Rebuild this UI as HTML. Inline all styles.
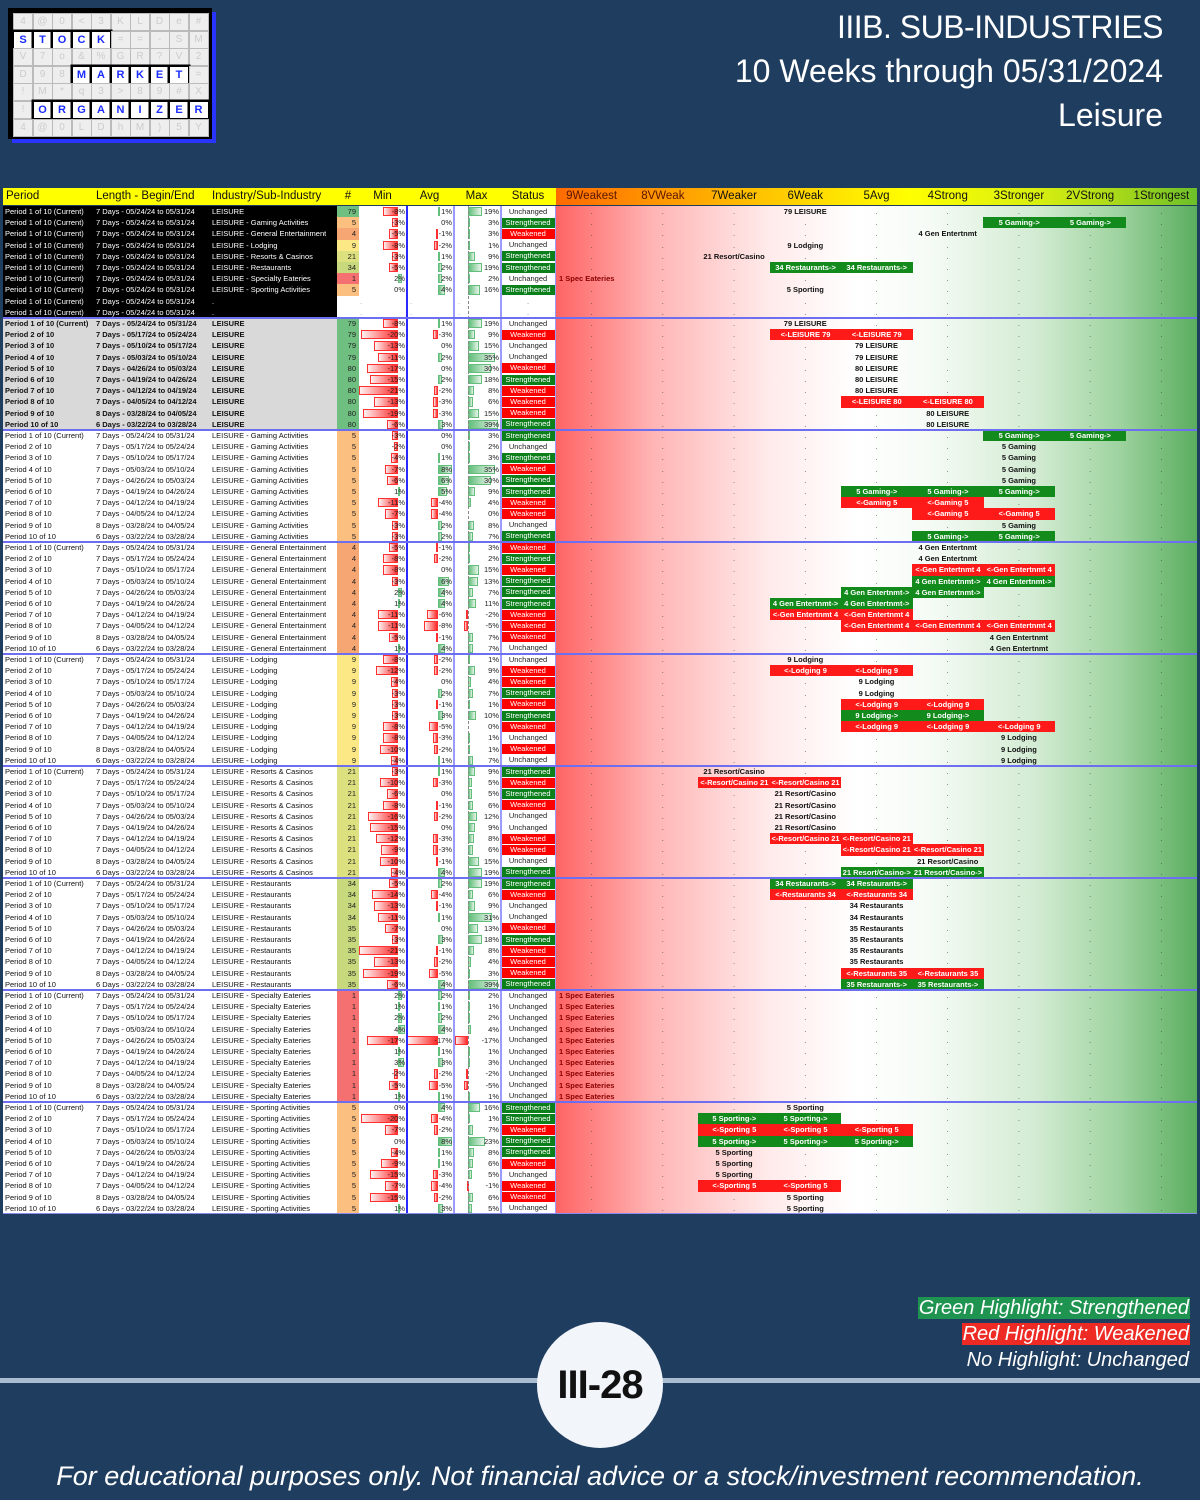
<!DOCTYPE html>
<html><head><meta charset="utf-8">
<style>
html,body{margin:0;padding:0;}
body{width:1200px;height:1500px;background:#1f3d5f;position:relative;overflow:hidden;font-family:"Liberation Sans",sans-serif;}
.a{position:absolute;}
.c{position:absolute;height:11.2px;line-height:11.2px;font-size:7.5px;white-space:nowrap;overflow:hidden;}
.title{position:absolute;right:37px;color:#fff;font-size:32px;line-height:44px;text-align:right;white-space:nowrap;}
.hd{position:absolute;top:188px;height:17px;line-height:17px;font-size:11.5px;color:#111;white-space:nowrap;}
.lg{position:absolute;right:10px;color:#fff;font-style:italic;font-size:20px;line-height:22px;padding:0 1px;white-space:nowrap;}
</style></head>
<body>
<div id="logo" class="a" style="left:8px;top:8px;width:204px;height:131px;"></div>

<div class="title" style="top:5px;letter-spacing:-0.5px;">IIIB. SUB-INDUSTRIES</div>
<div class="title" style="top:49px;">10 Weeks through 05/31/2024</div>
<div class="title" style="top:93px;">Leisure</div>

<div id="tbl" class="a" style="left:0;top:0;width:1200px;height:1220px;"></div>

<div class="lg" style="top:1297px;background:#1f9451;">Green Highlight: Strengthened</div>
<div class="lg" style="top:1323px;background:#ee2a24;">Red Highlight: Weakened</div>
<div class="lg" style="top:1349px;">No Highlight: Unchanged</div>

<div class="a" style="left:0;top:1378px;width:1200px;height:5px;background:#aabdd0;"></div>
<div class="a" style="left:537px;top:1322px;width:126px;height:126px;border-radius:50%;background:#f2f5fa;text-align:center;line-height:126px;font-size:40px;font-weight:bold;color:#111;letter-spacing:-1px;">III-28</div>
<div class="a" style="left:0;top:1459px;width:1200px;text-align:center;color:#fff;font-style:italic;font-size:27px;line-height:34px;">For educational purposes only. Not financial advice or a stock/investment recommendation.</div>

<script>
const periodLabels = ["Period 1 of 10 (Current)","Period 2 of 10","Period 3 of 10","Period 4 of 10","Period 5 of 10","Period 6 of 10","Period 7 of 10","Period 8 of 10","Period 9 of 10","Period 10 of 10"];
const lengthLabels = ["7 Days - 05/24/24 to 05/31/24","7 Days - 05/17/24 to 05/24/24","7 Days - 05/10/24 to 05/17/24","7 Days - 05/03/24 to 05/10/24","7 Days - 04/26/24 to 05/03/24","7 Days - 04/19/24 to 04/26/24","7 Days - 04/12/24 to 04/19/24","7 Days - 04/05/24 to 04/12/24","8 Days - 03/28/24 to 04/05/24","6 Days - 03/22/24 to 03/28/24"];
const industryNames = ["LEISURE","LEISURE - Gaming Activities","LEISURE - General Entertainment","LEISURE - Lodging","LEISURE - Resorts & Casinos","LEISURE - Restaurants","LEISURE - Specialty Eateries","LEISURE - Sporting Activities"];
const shortNames = ["LEISURE","Gaming","Gen Entertnmt","Lodging","Resort/Casino","Restaurants","Spec Eateries","Sporting"];
const rankHeaders = ["9Weakest","8VWeak","7Weaker","6Weak","5Avg","4Strong","3Stronger","2VStrong","1Strongest"];

const currentCounts = [79,5,4,9,21,34,1,5];
const currentMin = [-8,-3,-5,-8,-3,-5,2,0];
const currentAvg = [1,0,-1,-2,1,2,2,4];
const currentMax = [19,3,3,1,9,19,2,16];
const currentStatus = ["U","S","W","U","S","S","U","S"];
const currentRank = [6,2,4,6,7,5,9,6];
const currentPrev = [6,3,4,6,7,6,9,6];

const groupCounts = [
 [79,79,79,79,80,80,80,80,80,80],[5,5,5,5,5,5,5,5,5,5],[4,4,4,4,4,4,4,4,4,4],[9,9,9,9,9,9,9,9,9,9],
 [21,21,21,21,21,21,21,21,21,21],[34,34,34,34,35,35,35,35,35,35],[1,1,1,1,1,1,1,1,1,1],[5,5,5,5,5,5,5,5,5,5]];
const groupMin = [
 [-8,-20,-13,-11,-17,-15,-21,-13,-19,-6],[-3,-2,-4,-7,-6,1,-11,-7,-3,-3],[-5,-8,-8,-3,2,1,-11,-11,-5,1],[-8,-12,-4,-3,-3,-3,-8,-8,-10,-4],
 [-3,-10,-6,-8,-16,-15,-12,-9,-10,-4],[-5,-14,-13,-11,-7,-3,-21,-13,-19,-6],[2,1,2,4,-17,1,3,-2,-5,1],[0,-20,-7,0,-4,-9,-15,-7,-15,1]];
const groupAvg = [
 [1,-3,0,2,0,2,-2,-3,-3,3],[0,0,1,8,6,5,-4,-4,2,2],[-1,-2,0,6,4,4,-6,-8,-1,4],[-2,-2,0,2,-1,3,-5,-3,-2,1],
 [1,-3,0,-1,-2,0,-3,-3,-1,4],[2,-4,-1,1,0,3,-1,-2,-5,4],[2,1,2,4,-17,1,3,-2,-5,1],[4,-4,-2,8,1,1,-3,-4,-2,3]];
const groupMax = [
 [19,9,15,35,30,18,8,6,15,39],[3,2,3,35,30,9,4,0,8,7],[3,2,15,13,7,11,-2,-5,7,7],[1,9,4,7,1,10,0,1,1,7],
 [9,5,5,6,12,9,8,6,15,19],[19,6,9,31,13,18,8,4,3,39],[2,1,2,4,-17,1,3,-2,-5,1],[16,1,7,23,8,6,5,-1,6,5]];
const groupStatus = [
 ["U","W","U","U","W","S","W","W","W","S"],["S","U","S","W","S","S","W","W","U","S"],["W","S","W","S","S","S","W","W","W","U"],["U","W","W","S","W","S","W","U","W","U"],
 ["S","W","S","W","U","U","W","W","U","S"],["S","W","U","U","W","S","W","W","W","S"],["U","U","U","U","U","U","U","U","U","U"],["S","S","W","S","S","W","U","W","W","U"]];
const groupRank = [
 [6,6,5,5,5,5,5,5,4,4],[2,3,3,3,3,3,5,4,3,3],[4,4,4,3,4,5,6,5,3,3],[6,6,5,5,5,4,5,3,3,3],
 [7,7,6,6,6,6,6,5,4,4],[5,6,5,5,5,5,5,5,5,4],[9,9,9,9,9,9,9,9,9,9],[6,6,7,5,7,7,7,7,6,6]];
const groupPrev = [
 [6,5,5,5,5,5,5,4,4,4],[3,3,3,3,3,5,4,3,3,4],[4,4,3,4,5,6,5,3,3,3],[6,5,5,5,4,5,3,3,3,3],
 [7,6,6,6,6,6,5,4,4,5],[6,5,5,5,5,5,5,5,4,5],[9,9,9,9,9,9,9,9,9,9],[6,7,5,7,7,7,7,6,6,6]];

const tbl = document.getElementById('tbl');
const ROWH = 11.2, TOP = 206, RX = 556, RW = 71.22;
const MIN_AXIS = 398, MIN_SCALE = 1.85, AVG_AXIS = 438, AVG_SCALE = 1.8, MAX_AXIS = 468, MAX_SCALE = 0.76;

function countColor(n){
  if(n>=79) return '#6fbf80';
  if(n>=34) return '#c6d97c';
  if(n>=21) return '#dde07f';
  if(n>=9) return '#fce986';
  if(n>=5) return '#fbbf80';
  if(n>=4) return '#f6a673';
  return '#f57070';
}
function div(cls, css, text){
  const d = document.createElement('div');
  d.className = cls;
  d.style.cssText = css;
  if(text!==undefined) d.textContent = text;
  tbl.appendChild(d);
  return d;
}
function colX(rank){ return RX + (9-rank)*RW; }

(function(){
  const logo = document.getElementById('logo');
  const chars = "4@0<3KLDe#STOCK==-SMV7o&%GR?V2D98MARKET=!M*q3>89#X!ORGANIZER4@0LDhM)5Y";
  let h = '<div style="position:absolute;left:4px;top:4px;width:204px;height:131px;background:#2a34ff"></div><div style="position:absolute;left:0;top:0;width:204px;height:131px;background:#000"></div>';
  const words = {1:[0,"STOCK"],3:[3,"MARKET"],5:[1,"ORGANIZER"]};
  for(let r=0;r<7;r++){
    for(let c=0;c<10;c++){
      const x=5+c*19.5, y=5+r*17.6;
      let ch = chars[(r*10+c)%chars.length];
      let hi = false;
      if(words[r] && c>=words[r][0] && c<words[r][0]+words[r][1].length){hi=true;ch=words[r][1][c-words[r][0]];}
      if(hi) h += '<div style="position:absolute;left:'+x+'px;top:'+y+'px;width:18px;height:16px;background:#fff;border:1px solid #000;box-shadow:0 0 0 1.5px #000;color:#1a2cff;font:bold 11px \'Liberation Sans\',sans-serif;line-height:16px;text-align:center">'+ch+'</div>';
      else h += '<div style="position:absolute;left:'+x+'px;top:'+y+'px;width:18px;height:16px;background:#eee;border:1px solid #bbb;color:#ccc;font:10px \'Liberation Sans\',sans-serif;line-height:16px;text-align:center">'+ch+'</div>';
    }
  }
  logo.innerHTML = h;
})();

let e;
e = div('a','left:3px;top:188px;width:553px;height:17px;background:#ffff00;');


e = div('a','left:556px;top:188px;width:641px;height:17px;background:linear-gradient(to right,#ff6a00,#ffb000 25%,#ffe600 45%,#ffff00 55%,#d8ef10 75%,#a6d81a 88%,#6cbf2a);');


const leftHeads = [["Period",6,null],["Length - Begin/End",96,null],["Industry/Sub-Industry",212,null],["#",337,22],["Min",359,47],["Avg",406,47],["Max",453,47],["Status",500,56]];
leftHeads.forEach(hh=>{
  const d = div('hd','left:'+hh[1]+'px;'+(hh[2]?'width:'+hh[2]+'px;text-align:center;':''), hh[0]);
  
  
});
rankHeaders.forEach((t,i)=>{
  const d = div('hd','left:'+(RX+i*RW)+'px;width:'+RW+'px;text-align:center;'+(i<2?'color:#5a1500;':''), t);
  
  
});

e = div('a','left:3px;top:206px;width:553px;height:1008px;background:#fff;');


e = div('a','left:556px;top:206px;width:641px;height:1008px;background:linear-gradient(to right,#ff6464,#ffb4b4 15%,#ffeaea 33%,#fff 47%,#f6fbf6 58%,#d2ebd2 75%,#9ed39f 88%,#5aad5f);');



function bar(axis, scale, v, colW0, colW1, y){
  if(v===0) return;
  let x, w, bg, bd;
  if(v<0){ w=Math.min(-v*scale, axis-colW0); x=axis-w; bg='linear-gradient(to right,#fff0f0,#ff2a2a)'; bd='#ff3030'; }
  else { w=Math.min(v*scale, colW1-axis); x=axis; bg='linear-gradient(to right,#63be7b,#e8f5eb)'; bd='#63be7b'; }
  const d = div('a','left:'+x+'px;top:'+(y+1)+'px;width:'+w+'px;height:'+(ROWH-2)+'px;background:'+bg+';box-sizing:border-box;border:1px solid '+bd+';');
  
  
}

function drawRow(ri, pIdx, gIdx, cnt, mn, av, mx, st, rk, pv, theme){
  const y = TOP + ri*ROWH;
  const txtCol = theme==='black' ? '#fff' : '#111';
  const bold = theme==='gray' ? 'font-weight:bold;' : '';
  if(theme!=='white'){
    const b = div('a','left:3px;top:'+y+'px;width:334px;height:'+(ROWH+0.3)+'px;background:'+(theme==='black'?'#000':'#d9d9d9')+';');
    
    
  }
  let d;
  d = div('c','left:5px;top:'+y+'px;color:'+txtCol+';'+bold, periodLabels[pIdx]);
  
  
  d = div('c','left:96px;top:'+y+'px;color:'+txtCol+';'+bold, lengthLabels[pIdx]);
  
  
  d = div('c','left:212px;top:'+y+'px;color:'+txtCol+';'+bold, gIdx===null?'.':industryNames[gIdx]);
  
  
  if(gIdx===null){
    ['360','410','458'].forEach(xx=>{
      const q = div('c','left:'+xx+'px;top:'+y+'px;color:#999;','.');
      
      
    });
    const sq = div('c','left:500px;width:56px;text-align:center;top:'+y+'px;color:#666;','.');
    
    
  } else {
    d = div('c','left:337px;top:'+y+'px;width:22px;height:'+(ROWH+0.3)+'px;background:'+countColor(cnt)+';text-align:right;padding-right:3px;box-sizing:border-box;color:#222;', String(cnt));
    
    
    bar(MIN_AXIS, MIN_SCALE, mn, 359, 405, y);
    bar(AVG_AXIS, AVG_SCALE, av, 407, 452, y);
    bar(MAX_AXIS, MAX_SCALE, mx, 454, 499, y);
    d = div('c','left:359px;width:46px;text-align:right;top:'+y+'px;color:#222;', mn+'%');
    
    
    d = div('c','left:407px;width:45px;text-align:right;top:'+y+'px;color:#222;', av+'%');
    
    
    d = div('c','left:454px;width:45px;text-align:right;top:'+y+'px;color:#222;', mx+'%');
    
    
    const sTxt = st==='S'?'Strengthened':(st==='W'?'Weakened':'Unchanged');
    const sBg = st==='S'?'#0a7f1a':(st==='W'?'#ff0000':'#fff');
    const sCol = st==='U'?'#222':'#fff';
    d = div('c','left:501px;width:54px;text-align:center;top:'+(y+0.5)+'px;height:'+(ROWH-1)+'px;line-height:'+(ROWH-1)+'px;background:'+sBg+';color:'+sCol+';', sTxt);
    
    
  }
  for(let rank=9; rank>=1; rank--){
    const x = colX(rank);
    let cellEl;
    if(gIdx!==null && rk!==pv && rank>=Math.min(rk,pv) && rank<=Math.max(rk,pv)){
      const up = rk<pv;
      const lab = up ? (cnt+' '+shortNames[gIdx]+'->') : ('<-'+shortNames[gIdx]+' '+cnt);
      cellEl = div('c','left:'+x+'px;width:'+(RW+0.5)+'px;top:'+y+'px;text-align:center;font-weight:bold;color:#fff;background:'+(up?'#128a1c':'#ff1a1a')+';', lab);
      
    } else if(gIdx!==null && rank===rk){
      if(rank===9){
        cellEl = div('c','left:'+(x+3)+'px;width:'+RW+'px;top:'+y+'px;font-weight:bold;color:#8a0000;', cnt+' '+shortNames[gIdx]);
      } else {
        cellEl = div('c','left:'+x+'px;width:'+RW+'px;top:'+y+'px;text-align:center;font-weight:bold;color:#111;', cnt+' '+shortNames[gIdx]);
      }
      
    } else {
      cellEl = div('c','left:'+x+'px;width:'+RW+'px;top:'+y+'px;text-align:center;color:#444;', '.');
      
    }
    
  }
}

for(let i=0;i<10;i++){
  if(i<8) drawRow(i, 0, i, currentCounts[i], currentMin[i], currentAvg[i], currentMax[i], currentStatus[i], currentRank[i], currentPrev[i], 'black');
  else drawRow(i, 0, null, null, 0,0,0,'U',0,0,'black');
}
for(let g=0; g<8; g++){
  for(let p=0;p<10;p++){
    drawRow(10+g*10+p, p, g, groupCounts[g][p], groupMin[g][p], groupAvg[g][p], groupMax[g][p], groupStatus[g][p], groupRank[g][p], groupPrev[g][p], g===0?'gray':'white');
  }
}

[[406,2,'#2a2aff'],[453,1.5,'#9a9aff'],[500,1.5,'#9a9aff'],[555,1,'#9a9aff']].forEach(v=>{
  const l = div('a','left:'+v[0]+'px;top:206px;width:'+v[1]+'px;height:1008px;background:'+v[2]+';');
  
  
});
const dl = div('a','left:'+MAX_AXIS+'px;top:206px;width:0;height:1008px;border-left:1px dashed #888;');


for(let b=1;b<9;b++){
  const s = div('a','left:3px;top:'+(TOP+b*112-1)+'px;width:1194px;height:2px;background:#6e6ef0;');
  
  
}
const bb = div('a','left:3px;top:1213px;width:1194px;height:1px;background:#8a8af0;');


</script>
</body></html>
